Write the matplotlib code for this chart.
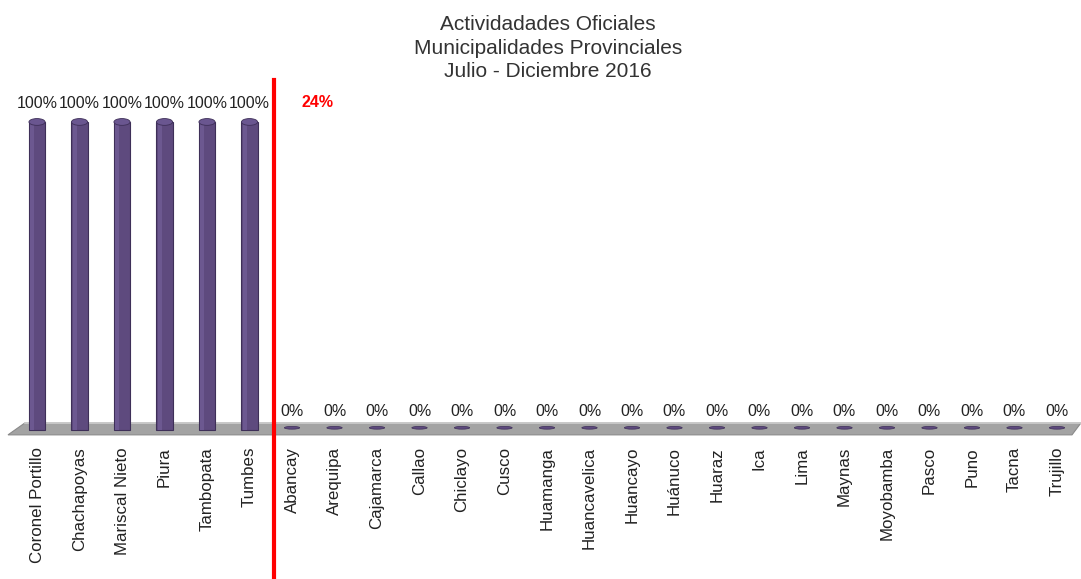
import matplotlib.pyplot as plt
from matplotlib.patches import Ellipse, Polygon

plt.rcParams['font.family'] = ['Liberation Sans', 'DejaVu Sans']

provincias = ["Coronel Portillo", "Chachapoyas", "Mariscal Nieto", "Piura", "Tambopata",
              "Tumbes", "Abancay", "Arequipa", "Cajamarca", "Callao", "Chiclayo", "Cusco",
              "Huamanga", "Huancavelica", "Huancayo", "Huánuco", "Huaraz", "Ica", "Lima",
              "Maynas", "Moyobamba", "Pasco", "Puno", "Tacna", "Trujillo"]
avance = [100, 100, 100, 100, 100, 100, 0, 0, 0, 0, 0, 0, 0, 0, 0, 0, 0, 0, 0, 0, 0, 0, 0, 0, 0]
promedio = 24  # avance promedio

purple = "#5e4a7e"
dark = "#3e2f58"

fig = plt.figure(figsize=(10.81, 5.79), dpi=100)
ax = fig.add_axes([0, 0, 1, 1])
xmin, xmax = -0.871, 24.565
ymin, ymax = -48.4, 139.6
ax.set_xlim(xmin, xmax)
ax.set_ylim(ymin, ymax)
ax.axis("off")

# floor of the 3D-looking chart
px = (xmax - xmin) / 1081
py = (ymax - ymin) / 579
floor = Polygon([(xmin + 25 * px, 2.3), (xmax, 2.3), (xmax - 9 * px, -1.6), (xmin + 8 * px, -1.6)],
                closed=True, facecolor="#a3a3a3", edgecolor="#8a8a8a", lw=0.8, zorder=1)
ax.add_patch(floor)
ax.plot([xmin + 25 * px, xmax], [2.3, 2.3], color="#d0d0d0", lw=1.2, zorder=1)

width = 0.38
for i, v in enumerate(avance):
    if v > 0:
        ax.bar(i, v, width=width, color=purple, edgecolor=dark, linewidth=0.8, zorder=2)
        ax.bar(i - width * 0.3, v, width=width * 0.25, color="#6c5890", linewidth=0, zorder=3)
        ax.add_patch(Ellipse((i, v), width, 2.2, facecolor="#6a5690", edgecolor=dark,
                             lw=0.6, zorder=4))
    else:
        ax.add_patch(Ellipse((i, 0.7), width * 0.95, 0.9, facecolor=purple, edgecolor=dark,
                             lw=0.5, zorder=3))
    ax.text(i, v + 3.4, f"{v}%", ha="center", va="bottom", fontsize=11.5, color="#222222")
    ax.text(i, -5.5, provincias[i], rotation=90, ha="center", va="top", fontsize=12.2,
            color="#222222")

# average divider
ax.axvline(5.58, ymin=0, ymax=(ymax - 80 * py - ymin) / (ymax - ymin), color="red", lw=3, zorder=5)
ax.text(6.6, ymax - 102 * py, f"{promedio}%", color="red", fontsize=11.5, fontweight="bold",
        ha="center", va="center")

fig.text(0.507, 1 - 48 / 579, "Actividadades Oficiales\nMunicipalidades Provinciales\nJulio - Diciembre 2016",
         ha="center", va="center", fontsize=15, color="#333333", linespacing=1.3)

fig.savefig("out.png", dpi=100)
